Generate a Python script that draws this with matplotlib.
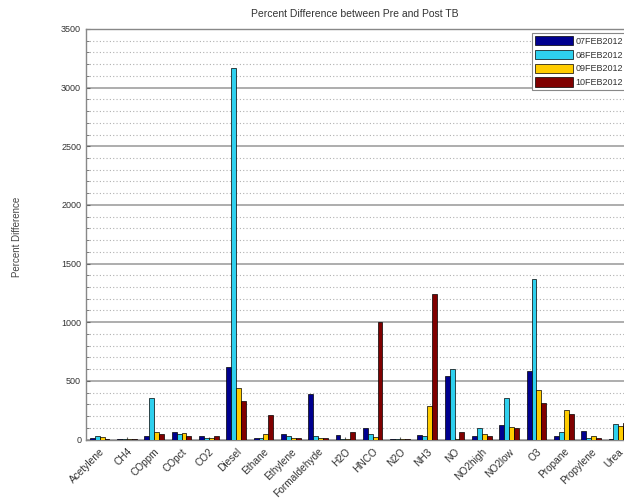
import numpy as np
import matplotlib
matplotlib.use("Agg")
import matplotlib.pyplot as plt
from matplotlib.ticker import MultipleLocator

categories = ["Acetylene", "CH4", "COppm", "COpct", "CO2", "Diesel", "Ethane", "Ethylene",
              "Formaldehyde", "H2O", "HNCO", "N2O", "NH3", "NO", "NO2high", "NO2low",
              "O3", "Propane", "Propylene", "Urea"]
series_names = ["07FEB2012", "08FEB2012", "09FEB2012", "10FEB2012"]
feb07 = [14, 3, 31, 62, 28, 620, 14, 45, 392, 40, 100, 4, 40, 545, 28, 125, 580, 34, 71, 3]
feb08 = [28, 3, 350, 43, 17, 3165, 11, 28, 31, 6, 51, 4, 26, 605, 100, 355, 1367, 65, 11, 130]
feb09 = [23, 4, 65, 57, 17, 443, 45, 14, 17, 8, 20, 4, 284, 6, 51, 108, 426, 250, 26, 119]
feb10 = [8, 4, 45, 28, 34, 332, 207, 17, 14, 60, 1000, 5, 1240, 60, 34, 102, 310, 216, 11, 142]
series = [feb07, feb08, feb09, feb10]
colors = ["#00008F", "#2ED0EE", "#FFCC00", "#800000"]

plt.rcParams['font.family'] = ['Liberation Sans', 'DejaVu Sans']

fig = plt.figure(figsize=(6.24, 5.04), dpi=100)
W, H = 624, 504
left_px, right_px, top_px, bot_px = 86, 632, 29, 439.5
ax = fig.add_axes([left_px / W, (H - bot_px) / H, (right_px - left_px) / W, (bot_px - top_px) / H])

x = np.arange(len(categories))
bw = 0.18
for i, (vals, c, name) in enumerate(zip(series, colors, series_names)):
    ax.bar(x + (i - 1.5) * bw, vals, width=bw, color=c, edgecolor='black', linewidth=0.5,
           label=name, zorder=3)

ax.set_xlim(-0.5, 19.5)
ax.set_ylim(0, 3500)
ax.yaxis.set_major_locator(MultipleLocator(500))
ax.yaxis.set_minor_locator(MultipleLocator(100))
ax.grid(which='major', axis='y', color='#a0a0a0', linewidth=1.2, linestyle='-', zorder=0)
ax.grid(which='minor', axis='y', color='#b0b0b0', linewidth=0.8, linestyle=(0, (1, 2)), zorder=0)
ax.set_axisbelow(True)

ax.set_xticks(x)
ax.set_xticklabels(categories, rotation=45, ha='right', rotation_mode='anchor',
                   fontsize=7.3, color='#333333')
ax.tick_params(axis='y', which='major', labelsize=6.5, labelcolor='#333333', direction='in',
               length=3, color='#666666')
ax.tick_params(axis='y', which='minor', direction='in', length=2, color='#666666')
ax.tick_params(axis='x', direction='in', length=2, color='#666666', pad=5)
for s in ax.spines.values():
    s.set_color('#888888')
    s.set_linewidth(1.0)

fig.text(355 / W, (H - 14) / H, "Percent Difference between Pre and Post TB", ha='center',
         va='center', fontsize=7.5, color='#333333')
fig.text(17 / W, (H - 237) / H, "Percent Difference", rotation=90, ha='center', va='center',
         fontsize=7, color='#444444')

leg = ax.legend(loc='upper right', bbox_to_anchor=(626 / W, (H - 33) / H),
                bbox_transform=fig.transFigure, fontsize=6.5, frameon=True, fancybox=False,
                framealpha=1, edgecolor='#888888', handlelength=4.2, handleheight=1.2,
                handletextpad=0.25, labelspacing=0.45, borderpad=0.35, borderaxespad=0.0)
leg.get_frame().set_linewidth(0.8)
for t in leg.get_texts():
    t.set_color('#333333')

fig.savefig("out.png", dpi=100)
